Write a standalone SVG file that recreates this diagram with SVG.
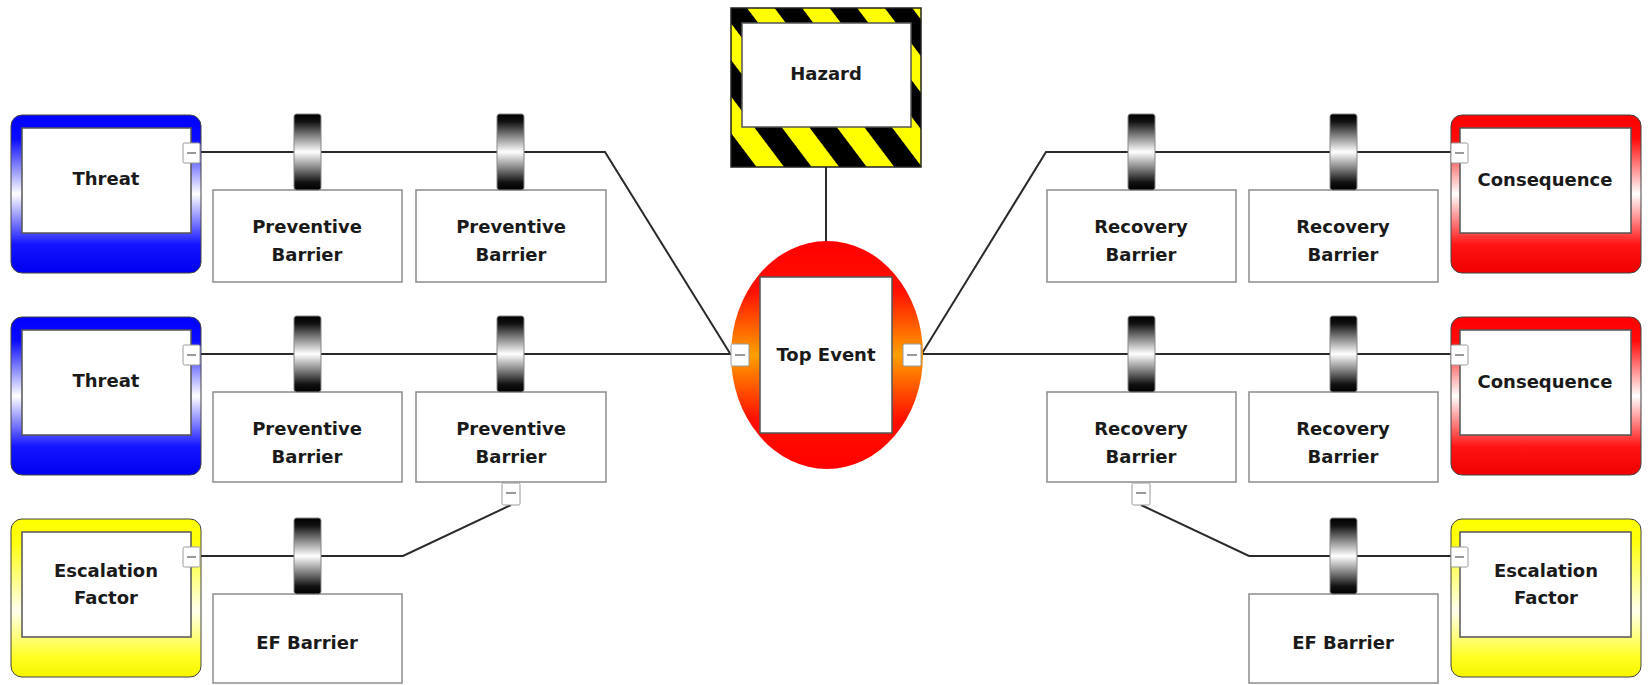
<svg xmlns="http://www.w3.org/2000/svg" width="1648" height="685" viewBox="0 0 1648 685">
<defs>
  <linearGradient id="gBlue" x1="0" y1="0" x2="0" y2="1">
    <stop offset="0" stop-color="#0000ff"/>
    <stop offset="0.15" stop-color="#0a0aff"/>
    <stop offset="0.5" stop-color="#ffffff"/>
    <stop offset="0.82" stop-color="#1414ff"/>
    <stop offset="1" stop-color="#0000f0"/>
  </linearGradient>
  <linearGradient id="gRed" x1="0" y1="0" x2="0" y2="1">
    <stop offset="0" stop-color="#ff0000"/>
    <stop offset="0.15" stop-color="#ff0a0a"/>
    <stop offset="0.5" stop-color="#ffffff"/>
    <stop offset="0.82" stop-color="#ff1414"/>
    <stop offset="1" stop-color="#f00000"/>
  </linearGradient>
  <linearGradient id="gYellow" x1="0" y1="0" x2="0" y2="1">
    <stop offset="0" stop-color="#ffff00"/>
    <stop offset="0.15" stop-color="#ffff10"/>
    <stop offset="0.58" stop-color="#ffffee"/>
    <stop offset="0.88" stop-color="#ffff20"/>
    <stop offset="1" stop-color="#f5f500"/>
  </linearGradient>
  <linearGradient id="gTop" x1="0" y1="0" x2="0" y2="1">
    <stop offset="0" stop-color="#ff0000"/>
    <stop offset="0.22" stop-color="#ff1000"/>
    <stop offset="0.5" stop-color="#ffa000"/>
    <stop offset="0.78" stop-color="#ff1000"/>
    <stop offset="1" stop-color="#ff0000"/>
  </linearGradient>
  <linearGradient id="gCyl" x1="0" y1="0" x2="0" y2="1">
    <stop offset="0" stop-color="#000000"/>
    <stop offset="0.1" stop-color="#111111"/>
    <stop offset="0.3" stop-color="#8a8a8a"/>
    <stop offset="0.5" stop-color="#ffffff"/>
    <stop offset="0.7" stop-color="#8a8a8a"/>
    <stop offset="0.9" stop-color="#111111"/>
    <stop offset="1" stop-color="#000000"/>
  </linearGradient>
  <pattern id="pStripe" width="44" height="44" patternUnits="userSpaceOnUse" patternTransform="translate(754,127) rotate(-37)">
    <rect width="44" height="44" fill="#ffff00"/>
    <rect width="22" height="44" fill="#000000"/>
  </pattern>
  <symbol id="cyl" overflow="visible">
    <rect x="0" y="0" width="27" height="76" rx="2.5" fill="url(#gCyl)" stroke="#888" stroke-width="1"/>
  </symbol>
</defs>
<style>
  .txt { font-family: "DejaVu Sans", "Liberation Sans", sans-serif; font-weight: bold; font-size: 18px; fill: #1a1a1a; text-anchor: middle; }
  .frame { stroke: #444; stroke-width: 1; }
  .inner { fill: #ffffff; stroke: #555; stroke-width: 1.5; }
  .bbox { fill: #ffffff; stroke: #8c8c8c; stroke-width: 1.5; }
  .conn { fill: none; stroke: #2a2a2a; stroke-width: 2; }
  .hdl { fill: #ffffff; stroke: #9a9a9a; stroke-width: 1; }
  .dash { stroke: #777; stroke-width: 1.5; }
</style>
<rect width="1648" height="685" fill="#ffffff"/>

<g id="connectors">
  <path class="conn" d="M200,152 H605 L731,355"/>
  <path class="conn" d="M200,354 H731"/>
  <path class="conn" d="M200,556 H403 L511,505"/>
  <path class="conn" d="M826,167 V242"/>
  <path class="conn" d="M921,355 L1046,152 H1451"/>
  <path class="conn" d="M921,354 H1451"/>
  <path class="conn" d="M1141,505 L1249,556 H1451"/>
</g>

<g id="hazard">
  <rect x="731" y="8" width="190" height="159" fill="url(#pStripe)" stroke="#222" stroke-width="1.5"/>
  <rect x="742" y="23" width="169" height="104" class="inner"/>
  <text class="txt" x="826" y="80">Hazard</text>
</g>

<g id="top-event">
  <ellipse cx="827" cy="355" rx="96" ry="114" fill="url(#gTop)"/>
  <rect x="760" y="277" width="132" height="156" class="inner"/>
  <text class="txt" x="826" y="361">Top Event</text>
  <rect class="hdl" x="731" y="344" width="18" height="22" rx="1.5"/>
  <line class="dash" x1="735" y1="355" x2="745" y2="355"/>
  <rect class="hdl" x="903" y="344" width="18" height="22" rx="1.5"/>
  <line class="dash" x1="907" y1="355" x2="917" y2="355"/>
</g>

<g id="threat-1">
  <rect class="frame" x="11" y="115" width="190" height="158" rx="11" fill="url(#gBlue)"/>
  <rect class="inner" x="22" y="128" width="169" height="105"/>
  <text class="txt" x="106" y="185">Threat</text>
  <rect class="hdl" x="183" y="143" width="17" height="20" rx="1.5"/>
  <line class="dash" x1="187" y1="153" x2="196" y2="153"/>
</g>
<g id="threat-2">
  <rect class="frame" x="11" y="317" width="190" height="158" rx="11" fill="url(#gBlue)"/>
  <rect class="inner" x="22" y="330" width="169" height="105"/>
  <text class="txt" x="106" y="387">Threat</text>
  <rect class="hdl" x="183" y="345" width="17" height="20" rx="1.5"/>
  <line class="dash" x1="187" y1="355" x2="196" y2="355"/>
</g>
<g id="escalation-left">
  <rect class="frame" x="11" y="519" width="190" height="158" rx="11" fill="url(#gYellow)"/>
  <rect class="inner" x="22" y="532" width="169" height="105"/>
  <text class="txt" x="106" y="577">Escalation</text>
  <text class="txt" x="106" y="604">Factor</text>
  <rect class="hdl" x="183" y="547" width="17" height="20" rx="1.5"/>
  <line class="dash" x1="187" y1="557" x2="196" y2="557"/>
</g>

<g id="consequence-1">
  <rect class="frame" x="1451" y="115" width="190" height="158" rx="11" fill="url(#gRed)"/>
  <rect class="inner" x="1460" y="128" width="171" height="105"/>
  <text class="txt" x="1545" y="186">Consequence</text>
  <rect class="hdl" x="1451" y="143" width="17" height="20" rx="1.5"/>
  <line class="dash" x1="1455" y1="153" x2="1464" y2="153"/>
</g>
<g id="consequence-2">
  <rect class="frame" x="1451" y="317" width="190" height="158" rx="11" fill="url(#gRed)"/>
  <rect class="inner" x="1460" y="330" width="171" height="105"/>
  <text class="txt" x="1545" y="388">Consequence</text>
  <rect class="hdl" x="1451" y="345" width="17" height="20" rx="1.5"/>
  <line class="dash" x1="1455" y1="355" x2="1464" y2="355"/>
</g>
<g id="escalation-right">
  <rect class="frame" x="1451" y="519" width="190" height="158" rx="11" fill="url(#gYellow)"/>
  <rect class="inner" x="1460" y="532" width="171" height="105"/>
  <text class="txt" x="1546" y="577">Escalation</text>
  <text class="txt" x="1546" y="604">Factor</text>
  <rect class="hdl" x="1451" y="547" width="17" height="20" rx="1.5"/>
  <line class="dash" x1="1455" y1="557" x2="1464" y2="557"/>
</g>

<g id="preventive-1-1">
  <rect class="bbox" x="213" y="190" width="189" height="92"/>
  <use href="#cyl" x="294" y="114"/>
  <text class="txt" x="307" y="233">Preventive</text>
  <text class="txt" x="307" y="261">Barrier</text>
</g>
<g id="preventive-1-2">
  <rect class="bbox" x="416" y="190" width="190" height="92"/>
  <use href="#cyl" x="497" y="114"/>
  <text class="txt" x="511" y="233">Preventive</text>
  <text class="txt" x="511" y="261">Barrier</text>
</g>
<g id="preventive-2-1">
  <rect class="bbox" x="213" y="392" width="189" height="90"/>
  <use href="#cyl" x="294" y="316"/>
  <text class="txt" x="307" y="435">Preventive</text>
  <text class="txt" x="307" y="463">Barrier</text>
</g>
<g id="preventive-2-2">
  <rect class="bbox" x="416" y="392" width="190" height="90"/>
  <use href="#cyl" x="497" y="316"/>
  <text class="txt" x="511" y="435">Preventive</text>
  <text class="txt" x="511" y="463">Barrier</text>
  <rect class="hdl" x="502" y="483" width="18" height="22" rx="1.5"/>
  <line class="dash" x1="506" y1="493" x2="516" y2="493"/>
</g>
<g id="ef-barrier-left">
  <rect class="bbox" x="213" y="594" width="189" height="89"/>
  <use href="#cyl" x="294" y="518"/>
  <text class="txt" x="307" y="649">EF Barrier</text>
</g>

<g id="recovery-1-1">
  <rect class="bbox" x="1047" y="190" width="189" height="92"/>
  <use href="#cyl" x="1128" y="114"/>
  <text class="txt" x="1141" y="233">Recovery</text>
  <text class="txt" x="1141" y="261">Barrier</text>
</g>
<g id="recovery-1-2">
  <rect class="bbox" x="1249" y="190" width="189" height="92"/>
  <use href="#cyl" x="1330" y="114"/>
  <text class="txt" x="1343" y="233">Recovery</text>
  <text class="txt" x="1343" y="261">Barrier</text>
</g>
<g id="recovery-2-1">
  <rect class="bbox" x="1047" y="392" width="189" height="90"/>
  <use href="#cyl" x="1128" y="316"/>
  <text class="txt" x="1141" y="435">Recovery</text>
  <text class="txt" x="1141" y="463">Barrier</text>
  <rect class="hdl" x="1132" y="483" width="18" height="22" rx="1.5"/>
  <line class="dash" x1="1136" y1="493" x2="1146" y2="493"/>
</g>
<g id="recovery-2-2">
  <rect class="bbox" x="1249" y="392" width="189" height="90"/>
  <use href="#cyl" x="1330" y="316"/>
  <text class="txt" x="1343" y="435">Recovery</text>
  <text class="txt" x="1343" y="463">Barrier</text>
</g>
<g id="ef-barrier-right">
  <rect class="bbox" x="1249" y="594" width="189" height="89"/>
  <use href="#cyl" x="1330" y="518"/>
  <text class="txt" x="1343" y="649">EF Barrier</text>
</g>
</svg>
